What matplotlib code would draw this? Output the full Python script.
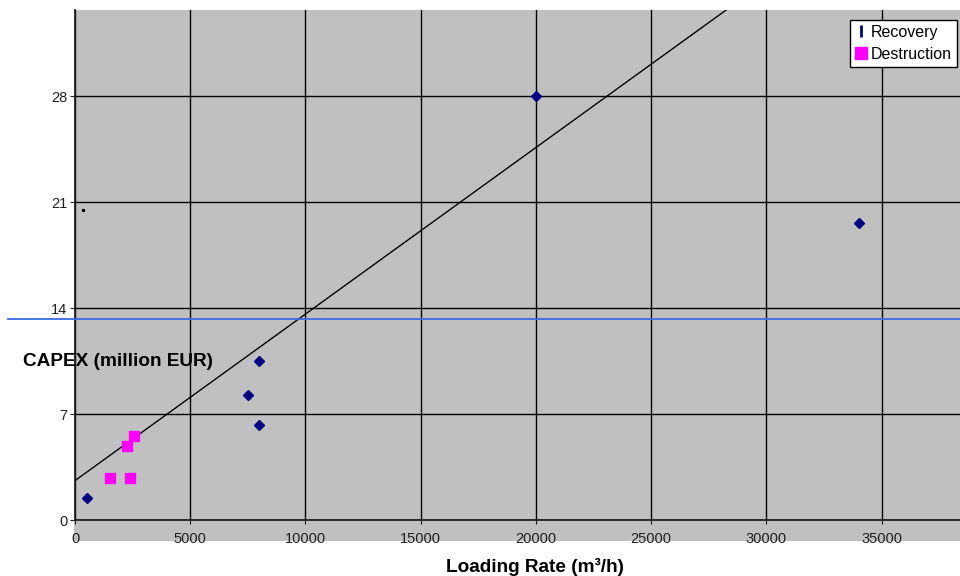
import matplotlib
matplotlib.use("Agg")
import matplotlib.pyplot as plt
from matplotlib.lines import Line2D
from matplotlib.patches import Rectangle
import numpy as np

plt.rcParams['font.family'] = ['Liberation Sans', 'DejaVu Sans']

# data
recovery_x = [500, 7500, 8000, 8000, 20000, 34000]
recovery_y = [1.43, 8.27, 10.48, 6.29, 28.0, 19.6]

destruction_x = [1500, 2400, 2250, 2550]
destruction_y = [2.79, 2.79, 4.91, 5.57]

stray_x = [360]
stray_y = [20.5]

trend_intercept = 2.6
trend_slope = 0.0011

limit_line_y = 13.28

x_ticks = [0, 5000, 10000, 15000, 20000, 25000, 30000, 35000]
y_ticks = [0, 7, 14, 21, 28]

gray = '#c0c0c0'
navy = '#000080'
magenta = '#ff00ff'

fig = plt.figure(figsize=(9.6, 5.76), dpi=100)
W, H = 960, 576
ax = fig.add_axes([75 / W, (H - 520) / H, 885 / W, 510 / H])
ax.set_facecolor(gray)

# grey strip under the x axis holding the tick labels
fig.patches.append(Rectangle((74 / W, (H - 541) / H), 886 / W, 21 / H,
                             transform=fig.transFigure, facecolor=gray,
                             edgecolor='none', zorder=-1))

ax.set_xlim(0, 38400)
ax.set_ylim(0, 33.68)
ax.set_xticks(x_ticks)
ax.set_yticks(y_ticks)
ax.grid(True, color='black', linewidth=1)
ax.set_axisbelow(True)

for side in ['top', 'right']:
    ax.spines[side].set_visible(False)
for side in ['left', 'bottom']:
    ax.spines[side].set_color('#202020')
    ax.spines[side].set_linewidth(1.3)

ax.tick_params(axis='x', length=3, pad=5.5, labelsize=10.5, colors='#202020')
ax.tick_params(axis='y', length=3.5, pad=2, labelsize=10.5, colors='#202020')

# trendline
xs = np.array(ax.get_xlim())
ax.plot(xs, trend_intercept + trend_slope * xs, color='black', linewidth=1)

# horizontal blue line (runs out past the y axis as in the source)
ax.axhline(limit_line_y, xmin=-67 / 885, xmax=1, color='#3c6ae6',
           linewidth=1.3, clip_on=False, zorder=3)

ax.plot(recovery_x, recovery_y, linestyle='none', marker='D', markersize=5.5,
        color=navy, zorder=4)
ax.plot(destruction_x, destruction_y, linestyle='none', marker='s', markersize=7.5,
        color=magenta, zorder=4)
ax.plot(stray_x, stray_y, linestyle='none', marker='s', markersize=1.3,
        color='black', zorder=4)

fig.text(118 / W, 1 - 362 / H, 'CAPEX (million EUR)', ha='center', va='center',
         fontsize=13.7, fontweight='bold')
fig.text(535 / W, 1 - 567 / H, 'Loading Rate (m\u00b3/h)', ha='center', va='center',
         fontsize=13.7, fontweight='bold')

handles = [
    Line2D([], [], linestyle='none', marker='|', markersize=8, markeredgewidth=2,
           color=navy),
    Line2D([], [], linestyle='none', marker='s', markersize=8.5, color=magenta),
]
leg = fig.legend(handles, ['Recovery', 'Destruction'], loc='upper right',
                 bbox_to_anchor=(957 / W, 1 - 20 / H), fontsize=11.5,
                 frameon=True, fancybox=False, framealpha=1, edgecolor='black',
                 handlelength=0.7, handletextpad=0.3, borderpad=0.3,
                 labelspacing=0.45, borderaxespad=0)
leg.get_frame().set_linewidth(1)

fig.savefig('out.png', dpi=100)
